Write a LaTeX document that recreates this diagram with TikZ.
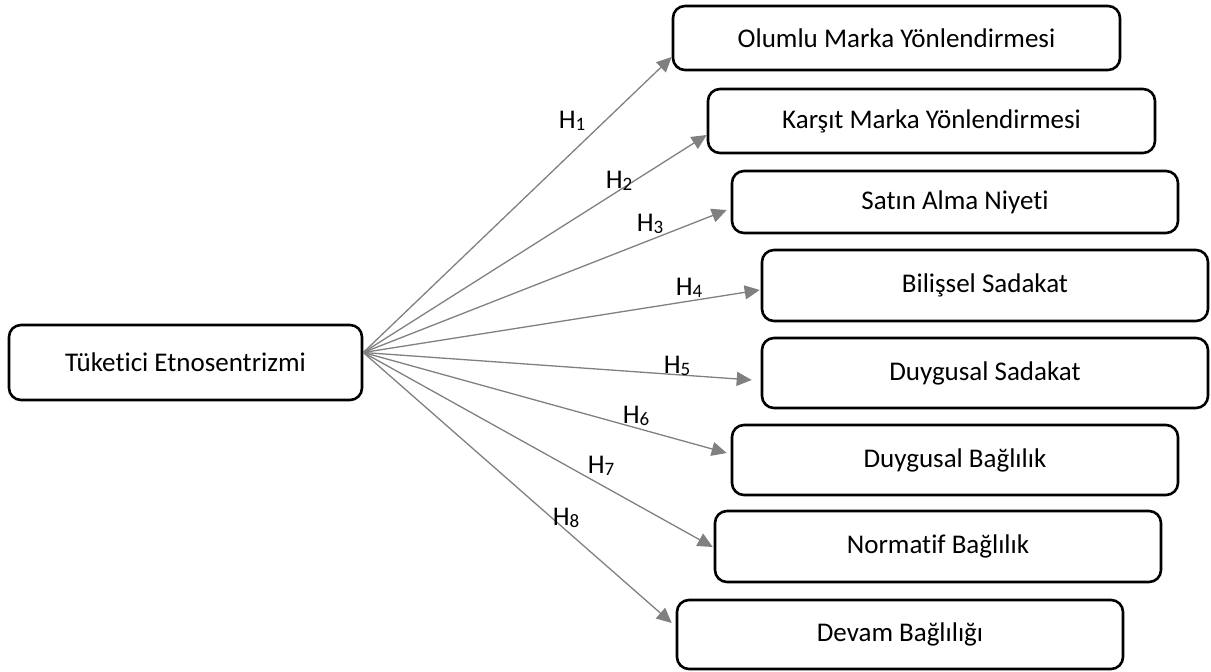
\documentclass[tikz,border=0pt]{standalone}
\usepackage{fontspec}
\setmainfont{Carlito}[Ligatures={NoCommon,NoDiscretionary,NoContextual}]
\usetikzlibrary{arrows.meta,calc}
\definecolor{arrowgray}{RGB}{128,128,128}
\newcommand\hsub[1]{H\raisebox{-1.2pt}{\fontsize{9.5}{9.5}\selectfont #1}}
\begin{document}
\begin{tikzpicture}[x=0.5pt,y=-0.5pt,
  box/.style={draw=black,line width=1.3pt,rounded corners=6pt,fill=white,inner sep=0pt,font=\fontsize{13.5}{16}\selectfont},
  conn/.style={draw=arrowgray,line width=0.65pt,-{Triangle[length=7.5pt,width=7pt]}},
  hyp/.style={inner sep=0pt,font=\fontsize{13.5}{16}\selectfont}]
\useasboundingbox (0,0) rectangle (1211,672);
\node[box,minimum width=176.5pt,minimum height=37.5pt] (src) at (185.5,362.5) {Tüketici Etnosentrizmi};
\node[box,minimum width=223.5pt,minimum height=32pt] (o1) at (896.5,38) {Olumlu Marka Yönlendirmesi};
\node[box,minimum width=223.5pt,minimum height=32pt] (o2) at (931.5,121) {Karşıt Marka Yönlendirmesi};
\node[box,minimum width=223pt,minimum height=31pt] (o3) at (955,202) {Satın Alma Niyeti};
\node[box,minimum width=223pt,minimum height=35.5pt] (o4) at (985,285.5) {Bilişsel Sadakat};
\node[box,minimum width=223pt,minimum height=35pt] (o5) at (985,373) {Duygusal Sadakat};
\node[box,minimum width=223pt,minimum height=35pt] (o6) at (955,460) {Duygusal Bağlılık};
\node[box,minimum width=223pt,minimum height=35.5pt] (o7) at (938,546.5) {Normatif Bağlılık};
\node[box,minimum width=223pt,minimum height=34.5pt] (o8) at (900,634.5) {Devam Bağlılığı};
\coordinate (org) at ($(src.east)+(0,-10)$);
\draw[conn] (org) -- ($(o1.west)+(0,19)$);
\draw[conn] (org) -- ($(o2.west)+(0,14)$);
\draw[conn] (org) -- ($(o3.west)+(-4,8)$);
\draw[conn] (org) -- ($(o4.west)+(-1,4.5)$);
\draw[conn] (org) -- ($(o5.west)+(-9,7)$);
\draw[conn] (org) -- ($(o6.west)+(-4,-7)$);
\draw[conn] (org) -- ($(o7.west)+(-1,0.5)$);
\draw[conn] (org) -- ($(o8.west)+(-4,-11.5)$);
\node[hyp] (h1) at (572,121) {\hsub{1}};
\node[hyp] (h2) at (619,181) {\hsub{2}};
\node[hyp] (h3) at (650,224) {\hsub{3}};
\node[hyp] (h4) at (689,288) {\hsub{4}};
\node[hyp] (h5) at (677,366) {\hsub{5}};
\node[hyp] (h6) at (636,416) {\hsub{6}};
\node[hyp] (h7) at (601,466) {\hsub{7}};
\node[hyp] (h8) at (566,518) {\hsub{8}};
\end{tikzpicture}
\end{document}
